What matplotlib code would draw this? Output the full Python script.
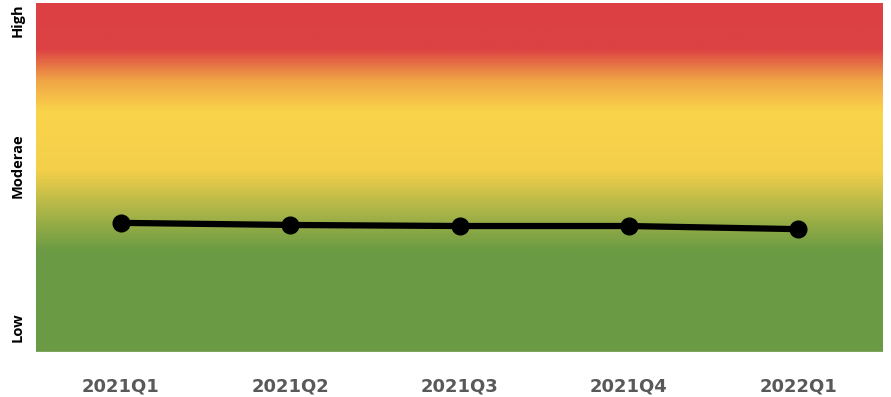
import numpy as np
import matplotlib.pyplot as plt
from matplotlib.colors import LinearSegmentedColormap

# data
quarters = ['2021Q1', '2021Q2', '2021Q3', '2021Q4', '2022Q1']
risk = [37.0, 36.4, 36.1, 36.1, 35.2]
level_labels = ['Low', 'Moderae', 'High']
level_pos = [7, 53.5, 95]

fig = plt.figure(figsize=(8.91, 3.97), dpi=100)
ax = fig.add_axes([36 / 891, 45 / 397, 847 / 891, 349 / 397])

# background gradient, green (low) -> yellow -> red (high)
stops = [(0.0, '#6A9A43'), (0.29, '#6B9B43'), (0.40, '#A9B448'),
         (0.52, '#F4CF4A'), (0.69, '#FAD44A'), (0.78, '#F0A546'),
         (0.87, '#DD4243'), (1.0, '#DC4043')]
cmap = LinearSegmentedColormap.from_list('risk', stops)
grad = np.linspace(0, 1, 400).reshape(-1, 1)
ax.imshow(grad, cmap=cmap, origin='lower', aspect='auto',
          extent=[-0.5, 4.5, 0, 100], zorder=0)

x = np.arange(len(quarters))
ax.plot(x, risk, color='black', lw=4.5, marker='o', ms=12, zorder=3)

ax.set_xlim(-0.5, 4.5)
ax.set_ylim(0, 100)
ax.set_xticks(x)
ax.set_xticklabels(quarters, fontsize=13, fontweight='bold', color='#595959')
ax.set_yticks(level_pos)
ax.set_yticklabels(level_labels, rotation=90, va='center', fontsize=10.5,
                   fontweight='bold', family=['Open Sans', 'DejaVu Sans'])
ax.tick_params(length=0, axis='x', pad=18)
ax.tick_params(length=0, axis='y', pad=8)
for s in ax.spines.values():
    s.set_visible(False)
ax.axhline(0, color='#D9D9D9', lw=1, zorder=1)

fig.savefig('out.png', dpi=100)
